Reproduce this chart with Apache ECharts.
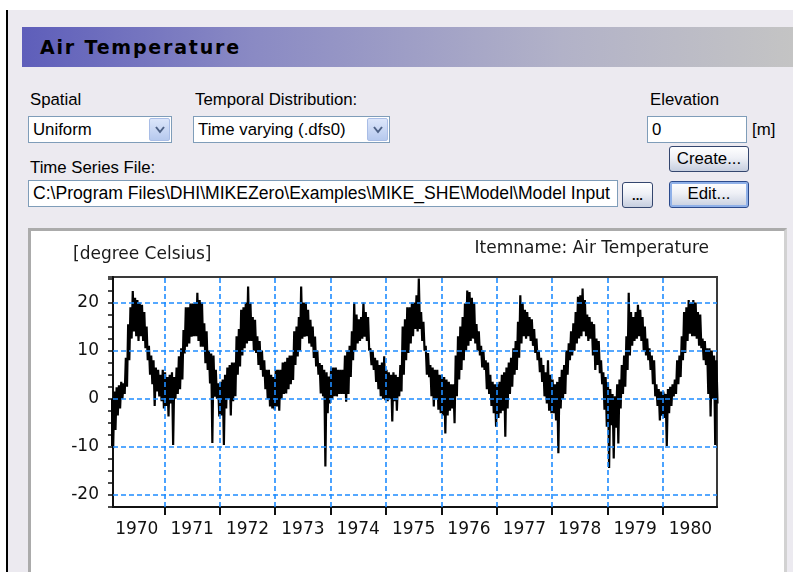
<!DOCTYPE html>
<html>
<head>
<meta charset="utf-8">
<script src="https://cdn.jsdelivr.net/npm/echarts@6/dist/echarts.min.js"></script>
<style>
html,body{margin:0;padding:0;width:793px;height:572px;overflow:hidden;background:#fff;font-family:"Liberation Sans",Arial,sans-serif;color:#000;}
#dlg{position:absolute;left:6px;top:10px;width:787px;height:562px;background:#ECEAF0;border-left:2px solid #000;box-sizing:border-box;}
#titlebar{position:absolute;left:22px;top:27px;width:771px;height:40px;background:linear-gradient(to right,#5E5EBA,#8A8AC4 30%,#B2B2C8 70%,#C4C4C4);}
#titletext{position:absolute;left:40px;top:27px;line-height:40px;font-family:"DejaVu Sans",sans-serif;font-weight:bold;font-size:19px;letter-spacing:1.8px;}
.lbl{position:absolute;font-size:16.8px;line-height:18px;white-space:nowrap;}
.box{position:absolute;background:#fff;border:1px solid #7F9DB9;box-sizing:border-box;font-size:16.8px;line-height:25px;padding-left:4px;white-space:nowrap;overflow:hidden;}
.dd{position:absolute;right:1px;top:1px;width:21px;height:23px;box-sizing:border-box;border:1px solid #A9BDE6;border-radius:2px;background:linear-gradient(#DCE6FA,#B6C9EE);}
.dd svg{position:absolute;left:5px;top:7px;}
.btn{position:absolute;box-sizing:border-box;border:1px solid #34466E;border-radius:3px;background:linear-gradient(#FFFFFF,#EEF0F6 45%,#C6CEDF);font-size:16.8px;text-align:center;white-space:nowrap;}
#panel{position:absolute;left:28px;top:228px;width:759px;height:360px;background:#fff;border-top:3px solid #ABABAB;border-left:3px solid #ABABAB;border-right:3px solid #D2D2D2;box-sizing:border-box;}
#chart{position:absolute;left:31px;top:231px;width:752px;height:341px;}
</style>
</head>
<body>
<div id="dlg"></div>
<div id="titlebar"></div>
<div id="titletext">Air Temperature</div>

<div class="lbl" style="left:30px;top:91px;">Spatial</div>
<div class="lbl" style="left:195px;top:91px;">Temporal Distribution:</div>
<div class="lbl" style="left:650px;top:91px;">Elevation</div>

<div class="box" style="left:28px;top:116px;width:144px;height:27px;">Uniform
  <div class="dd"><svg width="10" height="8"><polyline points="1,1 5,6 9,1" fill="none" stroke="#4D6185" stroke-width="2"/></svg></div>
</div>
<div class="box" style="left:193px;top:116px;width:197px;height:27px;">Time varying (.dfs0)
  <div class="dd"><svg width="10" height="8"><polyline points="1,1 5,6 9,1" fill="none" stroke="#4D6185" stroke-width="2"/></svg></div>
</div>
<div class="box" style="left:647px;top:116px;width:100px;height:27px;">0</div>
<div class="lbl" style="left:752px;top:121px;">[m]</div>

<div class="btn" style="left:669px;top:146px;width:80px;height:26px;line-height:24px;">Create...</div>
<div class="lbl" style="left:30px;top:159px;">Time Series File:</div>
<div class="box" style="left:28px;top:180px;width:590px;height:27px;font-size:17.6px;">C:\Program Files\DHI\MIKEZero\Examples\MIKE_SHE\Model\Model Input</div>
<div class="btn" style="left:622px;top:182px;width:31px;height:26px;line-height:26px;font-weight:bold;font-size:13px;">...</div>
<div class="btn" style="left:669px;top:181px;width:80px;height:27px;line-height:23px;border-color:#2B4A8C;box-shadow:inset 0 0 0 2px #8FB0E8;">Edit...</div>

<div id="panel"></div>
<div id="chart"></div>

<script>
// ---- data: per year, 24 half-month upper and lower envelope values (degree Celsius)
const years = [1970,1971,1972,1973,1974,1975,1976,1977,1978,1979,1980];

const hi1970 = [-0.5,0.0,1.5,2.4,2.8,3.5,3.2,8.5,15.5,19.0,22.4,21.0,20.5,20.0,19.5,18.0,15.0,11.0,9.0,8.0,6.5,6.0,5.0,6.0];
const lo1970 = [-9.8,-10.3,-6.5,-3.5,-2.0,0.0,1.0,2.5,8.0,12.5,14.0,13.0,12.0,13.0,12.0,10.5,8.0,5.0,3.0,-1.5,1.5,0.5,-0.5,-2.0];
const hi1971 = [5.5,4.5,5.0,5.5,4.5,6.5,8.8,10.5,14.3,19.0,19.0,19.8,19.8,20.0,22.0,20.5,20.0,15.7,14.0,10.0,9.4,9.0,6.0,3.2];
const lo1971 = [-1.5,-3.7,-1.0,-9.6,0.0,1.0,2.0,4.0,9.4,10.8,11.5,12.9,13.0,13.0,12.0,10.8,10.8,7.4,6.0,3.2,-9.2,0.4,0.0,-3.7];
const hi1972 = [3.5,4.0,5.0,6.5,7.0,7.5,7.5,13.0,14.5,18.5,19.0,20.0,23.3,20.0,17.0,16.4,13.0,12.0,10.0,8.0,6.0,6.0,5.0,4.5];
const lo1972 = [-3.5,-9.6,-2.0,0.0,-3.5,-0.5,0.5,5.0,6.7,9.0,10.5,11.5,12.0,12.0,10.0,9.5,7.0,6.0,4.6,2.0,0.0,-1.6,-2.0,-2.3];
const hi1973 = [6.0,6.0,6.0,7.5,7.7,8.5,9.0,9.0,14.0,15.0,17.0,23.3,20.0,20.0,18.5,16.4,15.0,12.9,10.0,7.4,7.0,6.0,5.5,4.6];
const lo1973 = [-1.6,-2.5,0.0,1.0,1.1,2.0,3.0,3.9,7.0,8.8,10.0,12.5,12.9,13.0,11.5,10.8,8.5,6.7,5.0,1.1,0.5,-14.1,-3.0,-1.0];
const hi1974 = [6.5,6.5,6.5,6.0,6.0,6.0,9.0,10.0,11.0,14.0,20.0,17.5,16.5,17.0,20.0,18.0,17.0,10.5,10.0,8.5,8.0,7.0,7.5,8.8];
const lo1974 = [0.0,0.5,0.5,1.0,1.0,1.0,-0.6,1.0,4.5,8.0,10.0,11.5,12.0,12.5,12.9,12.0,10.0,7.0,6.0,3.5,2.0,0.5,0.0,-0.3];
const hi1975 = [6.0,5.5,5.0,5.5,5.0,4.5,7.0,15.0,16.5,19.0,19.0,20.0,20.0,21.5,25.0,18.0,16.0,11.0,9.5,7.0,6.5,6.0,6.0,5.0];
const lo1975 = [-0.5,0.0,-4.7,-0.5,-2.5,0.5,1.5,5.0,8.0,9.5,11.5,13.0,14.5,14.0,14.5,12.0,10.0,5.0,4.5,0.5,-1.6,0.0,-2.3,-3.0];
const hi1976 = [5.0,4.5,4.0,3.5,3.0,3.0,9.0,13.0,15.0,17.0,19.8,22.5,22.2,21.0,20.0,15.5,14.0,11.0,10.0,8.0,7.5,5.0,3.5,3.0];
const lo1976 = [-3.5,-7.2,-3.5,-2.5,-2.0,-5.1,0.5,4.0,6.0,8.0,10.0,11.0,12.0,12.5,11.5,10.0,9.0,6.5,6.0,2.0,1.0,-1.5,-3.0,-5.8];
const hi1977 = [3.0,3.5,5.0,5.5,6.5,7.5,8.5,10.5,12.0,16.0,21.5,20.0,18.5,18.0,17.0,16.5,14.5,12.5,10.0,8.5,7.0,5.5,8.0,5.0];
const lo1977 = [-4.0,-3.0,-2.5,-7.9,-2.0,1.0,2.5,5.0,6.0,8.5,11.5,13.0,12.5,13.0,12.0,11.0,9.5,8.0,5.5,3.5,0.5,-1.0,-2.5,-3.0];
const hi1978 = [4.0,3.0,3.5,4.5,6.0,7.0,10.0,11.5,14.0,15.7,18.0,21.2,21.5,22.9,20.5,17.5,17.0,16.0,15.5,12.5,12.0,8.0,5.5,4.5];
const lo1978 = [-3.0,-4.5,-11.3,-2.0,0.0,1.0,5.0,8.0,9.0,10.0,11.5,12.5,13.0,14.0,13.0,12.0,12.5,9.0,6.0,7.0,5.3,3.0,-2.3,-5.8];
const hi1979 = [3.5,2.0,1.0,0.5,3.0,4.0,7.0,9.0,13.0,22.0,18.0,17.0,18.0,19.5,18.5,17.0,15.0,12.5,10.5,9.0,8.0,3.0,2.0,1.5];
const lo1979 = [-14.4,-5.5,-12.4,-6.0,-9.3,-2.0,1.0,2.5,6.0,9.0,11.0,12.0,12.5,13.0,12.0,10.0,9.0,8.0,6.0,3.0,0.5,-1.5,-4.5,-3.5];
const hi1980 = [1.5,1.0,2.0,2.5,3.0,4.0,8.0,9.0,13.0,18.0,19.0,20.5,20.0,20.5,20.0,18.0,17.5,12.5,12.0,10.5,10.5,10.0,9.0,8.0];
const lo1980 = [-4.0,-9.8,-3.0,-1.5,0.5,1.0,3.0,4.5,8.0,9.5,12.0,13.5,13.0,13.0,12.5,11.0,10.5,8.0,7.0,1.0,-3.7,0.0,-9.6,-1.0];

const highs = [hi1970,hi1971,hi1972,hi1973,hi1974,hi1975,hi1976,hi1977,hi1978,hi1979,hi1980];
const lows  = [lo1970,lo1971,lo1972,lo1973,lo1974,lo1975,lo1976,lo1977,lo1978,lo1979,lo1980];

// axis ticks / labels
const yearTicks = [1971,1972,1973,1974,1975,1976,1977,1978,1979,1980];
const yearLabels = ['1970','1971','1972','1973','1974','1975','1976','1977','1978','1979','1980'];
const yLabels = [-20,-10,0,10,20];
const xStart = 1970.07, xEnd = 1980.98;

// build the time series (decimal year, value)
const series = [];
years.forEach((y, i) => {
  for (let k = 0; k < 24; k++) {
    series.push([y + (k + 0.25) / 24, highs[i][k]]);
    series.push([y + (k + 0.75) / 24, lows[i][k]]);
  }
});

const gridLines = yearTicks.map(v => ({xAxis: v})).concat(yLabels.map(v => ({yAxis: v})));
const labelFont = '"DejaVu Sans", sans-serif';

const chart = echarts.init(document.getElementById('chart'), null, {renderer: 'canvas'});
chart.setOption({
  animation: false,
  backgroundColor: 'transparent',
  title: [
    {text: '[degree Celsius]', left: 37, top: 10, textStyle: {fontFamily: labelFont, fontSize: 17, fontWeight: 'normal', color: '#1a1a1a'}},
    {text: 'Itemname: Air Temperature', right: 69, top: 4, textStyle: {fontFamily: labelFont, fontSize: 17, fontWeight: 'normal', color: '#1a1a1a'}}
  ],
  grid: {left: 82, top: 46, width: 604, height: 230, show: true, borderColor: '#3a3a3a', borderWidth: 2, backgroundColor: '#fff'},
  xAxis: {
    type: 'value', min: xStart, max: xEnd,
    axisLine: {show: true, onZero: false, lineStyle: {color: '#111', width: 2}},
    axisTick: {show: true, customValues: yearTicks, length: 8, lineStyle: {color: '#111', width: 2}},
    axisLabel: {
      customValues: yearLabels.map(s => Number(s) + 0.5),
      formatter: v => String(Math.floor(v)),
      color: '#111', fontFamily: labelFont, fontSize: 17, margin: 14
    },
    splitLine: {show: false}
  },
  yAxis: {
    type: 'value', min: -22.5, max: 25.3, interval: 2.5,
    axisLine: {show: true, onZero: false, lineStyle: {color: '#111', width: 2}},
    axisTick: {show: true, length: 5, lineStyle: {color: '#111', width: 1.5}},
    axisLabel: {
      formatter: v => (yLabels.indexOf(v) >= 0 ? String(v) : ''),
      color: '#111', fontFamily: labelFont, fontSize: 17, margin: 14
    },
    splitLine: {show: false}
  },
  series: [
    {type: 'line', data: series, showSymbol: false, symbol: 'none', silent: true, z: 2,
     lineStyle: {color: '#000', width: 2.2, join: 'miter', miterLimit: 2}},
    {type: 'line', data: [], silent: true, z: 5,
     markLine: {silent: true, symbol: ['none', 'none'], label: {show: false},
       lineStyle: {type: [5, 3], color: '#1E8CFF', width: 1.6}, data: gridLines}}
  ]
});
</script>
</body>
</html>
